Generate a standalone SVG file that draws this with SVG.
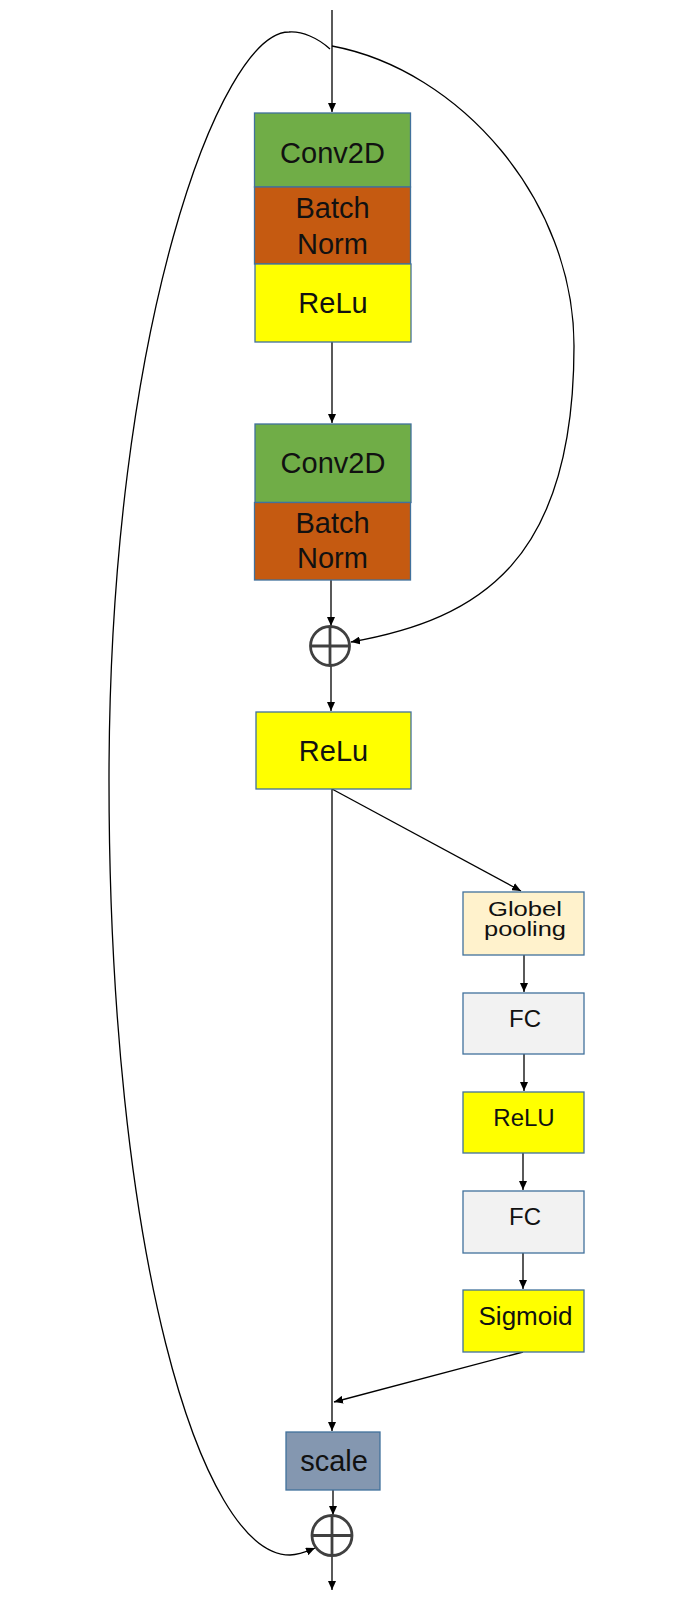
<svg xmlns="http://www.w3.org/2000/svg" width="695" height="1599" viewBox="0 0 695 1599">
<defs>
<marker id="arr" markerWidth="9" markerHeight="8" refX="9" refY="4" orient="auto" markerUnits="userSpaceOnUse">
<path d="M0,0 L9,4 L0,8 z" fill="#000"/>
</marker>
<style>
.box{stroke:#41719C;stroke-width:1.3}
.t{font-family:"Liberation Sans",Arial,sans-serif;fill:#111;text-anchor:middle}
.big{font-size:29px}
.small{font-size:24px}
.conn{fill:none;stroke:#000;stroke-width:1.3}
.sum{fill:none;stroke:#404040;stroke-width:2.8}
.green{fill:#70AD47}
.orange{fill:#C55A11}
.yellow{fill:#FFFF00}
.cream{fill:#FFF2CC}
.grey{fill:#F2F2F2}
.slate{fill:#8497B0}
</style>
</defs>
<rect width="695" height="1599" fill="#fff"/>

<g id="connectors">
<path class="conn" d="M332,10 L332,112" marker-end="url(#arr)"/>
<path class="conn" d="M332,342 L332,423" marker-end="url(#arr)"/>
<path class="conn" d="M331,580 L331,626" marker-end="url(#arr)"/>
<path class="conn" d="M331,666 L331,711" marker-end="url(#arr)"/>
<path class="conn" d="M332,789 L521,891" marker-end="url(#arr)"/>
<path class="conn" d="M332,789 L332,1431" marker-end="url(#arr)"/>
<path class="conn" d="M524,955 L524,992" marker-end="url(#arr)"/>
<path class="conn" d="M524,1054 L524,1091" marker-end="url(#arr)"/>
<path class="conn" d="M523,1153 L523,1190" marker-end="url(#arr)"/>
<path class="conn" d="M523,1253 L523,1289" marker-end="url(#arr)"/>
<path class="conn" d="M523,1352 L334,1402" marker-end="url(#arr)"/>
<path class="conn" d="M333,1490 L333,1515" marker-end="url(#arr)"/>
<path class="conn" d="M332,1556 L332,1590" marker-end="url(#arr)"/>
<path class="conn" d="M332,46 C460,70 574,200 574,346 C574,560 481,619 351,642" marker-end="url(#arr)"/>
<path class="conn" d="M330,49 C318,38 302,31 289,32 C220,32 109,330 109,780 C109,1250 200,1555 290,1555 C300,1555 308,1551 315,1548" marker-end="url(#arr)"/>
</g>

<g id="block1">
<rect class="box green" x="254.5" y="113" width="156" height="74"/>
<text class="t big" x="332.5" y="162.5">Conv2D</text>
<rect class="box orange" x="254.5" y="187" width="156" height="77"/>
<text class="t big" x="332.5" y="218">Batch</text>
<text class="t big" x="332.5" y="254">Norm</text>
<rect class="box yellow" x="255" y="264" width="156" height="78"/>
<text class="t big" x="333" y="313">ReLu</text>
</g>

<g id="block2">
<rect class="box green" x="255" y="424" width="156" height="78.5"/>
<text class="t big" x="333" y="473">Conv2D</text>
<rect class="box orange" x="254.5" y="502.5" width="156" height="77.5"/>
<text class="t big" x="332.5" y="533">Batch</text>
<text class="t big" x="332.5" y="568">Norm</text>
</g>

<g id="sum1">
<circle class="sum" cx="330" cy="646" r="19.5"/>
<line class="sum" x1="310.5" y1="646" x2="349.5" y2="646"/>
<line class="sum" x1="330" y1="626.5" x2="330" y2="665.5"/>
</g>

<g id="relu-main">
<rect class="box yellow" x="256" y="712" width="155" height="77"/>
<text class="t big" x="333.5" y="761">ReLu</text>
</g>

<g id="global-pooling">
<rect class="box cream" x="463" y="892" width="121" height="63"/>
<text class="t" style="font-size:21px" x="525" y="916" textLength="74" lengthAdjust="spacingAndGlyphs">Globel</text>
<text class="t" style="font-size:21px" x="525" y="936" textLength="82" lengthAdjust="spacingAndGlyphs">pooling</text>
</g>

<g id="fc1">
<rect class="box grey" x="463" y="993" width="121" height="61"/>
<text class="t small" x="525" y="1027">FC</text>
</g>

<g id="relu-se">
<rect class="box yellow" x="463" y="1092" width="121" height="61"/>
<text class="t small" x="524" y="1126">ReLU</text>
</g>

<g id="fc2">
<rect class="box grey" x="463" y="1191" width="121" height="62"/>
<text class="t small" x="525" y="1225">FC</text>
</g>

<g id="sigmoid">
<rect class="box yellow" x="463" y="1290" width="121" height="62"/>
<text class="t" x="525.5" y="1325" style="font-size:26px">Sigmoid</text>
</g>

<g id="scale">
<rect class="box slate" x="286" y="1432" width="94" height="58"/>
<text class="t big" x="334" y="1471">scale</text>
</g>

<g id="sum2">
<circle class="sum" cx="332" cy="1535.5" r="20"/>
<line class="sum" x1="312" y1="1535.5" x2="352" y2="1535.5"/>
<line class="sum" x1="332" y1="1515.5" x2="332" y2="1555.5"/>
</g>
</svg>
